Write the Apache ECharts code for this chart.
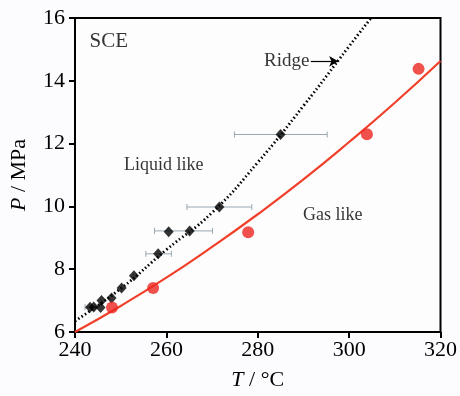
<!DOCTYPE html>
<html>
<head>
<meta charset="utf-8">
<script src="https://cdn.jsdelivr.net/npm/echarts@6/dist/echarts.min.js"></script>
<style>
  html, body { margin: 0; padding: 0; background: #fcfcfe; }
  #chart { width: 460px; height: 396px; }
</style>
</head>
<body>
<div id="chart"></div>
<script>
  // ridge points (black diamonds)
  var ridgePtT = [243.3, 244.1, 245.6, 245.8, 248.0, 250.2, 252.9, 258.2, 260.5, 265.1, 271.6, 285.0]
  var ridgePtP = [6.79, 6.80, 6.78, 7.00, 7.08, 7.40, 7.79, 8.49, 9.19, 9.22, 9.98, 12.29]
  // horizontal error bars on some ridge points
  var errT = [243.3, 258.2, 265.1, 271.6, 285.0]
  var errP = [6.79, 8.49, 9.22, 9.98, 12.29]
  var errLo = [242.2, 255.5, 257.4, 264.5, 274.9]
  var errHi = [244.4, 261.1, 270.1, 278.7, 295.2]
  // dotted ridge line
  var ridgeT = [240, 250, 260, 270, 280, 290, 300, 304.8]
  var ridgeP = [6.35, 7.38, 8.62, 9.80, 11.40, 13.20, 15.10, 16.00]
  // red points and fitted curve
  var gasT = [248.1, 257.1, 277.9, 303.9, 315.2]
  var gasP = [6.78, 7.40, 9.18, 12.30, 14.38]
  var fitT = [240, 250, 260, 270, 280, 290, 300, 310, 320]
  var fitP = [6.00, 6.83, 7.73, 8.71, 9.75, 10.86, 12.05, 13.30, 14.63]
  var xTicks = [240, 260, 280, 300, 320]
  var yTicks = [6, 8, 10, 12, 14, 16]

  var serif = '"Liberation Serif", "Times New Roman", serif'
  function zip (a, b) {
    return a.map(function (v, i) { return [v, b[i]] })
  }

  var option = {
    backgroundColor: '#fcfcfe',
    animation: false,
    textStyle: { fontFamily: serif },
    grid: {
      left: 74,
      right: 18,
      top: 18,
      bottom: 58,
      show: true,
      borderColor: '#000',
      borderWidth: 2,
      backgroundColor: '#fdfdfe'
    },
    xAxis: {
      type: 'value',
      min: xTicks[0],
      max: xTicks[xTicks.length - 1],
      interval: 20,
      name: '{i|T} / °C',
      nameLocation: 'middle',
      nameGap: 37,
      nameTextStyle: {
        fontSize: 22,
        color: '#000',
        fontFamily: serif,
        rich: { i: { fontStyle: 'italic', fontSize: 22, fontFamily: serif } }
      },
      axisLine: { lineStyle: { color: '#000', width: 2 } },
      axisTick: { length: 6, lineStyle: { color: '#000', width: 2 } },
      axisLabel: { fontSize: 22, color: '#000', margin: 7, fontFamily: serif },
      splitLine: { show: false }
    },
    yAxis: {
      type: 'value',
      min: yTicks[0],
      max: yTicks[yTicks.length - 1],
      interval: 2,
      name: '{i|P} / MPa',
      nameLocation: 'middle',
      nameGap: 45,
      nameTextStyle: {
        fontSize: 22,
        color: '#000',
        fontFamily: serif,
        rich: { i: { fontStyle: 'italic', fontSize: 22, fontFamily: serif } }
      },
      axisLine: { lineStyle: { color: '#000', width: 2 } },
      axisTick: { length: 6, lineStyle: { color: '#000', width: 2 } },
      axisLabel: { fontSize: 22, color: '#000', margin: 10, fontFamily: serif },
      splitLine: { show: false }
    },
    series: [
      {
        // 红色拟合曲线
        type: 'line',
        data: zip(fitT, fitP),
        smooth: true,
        showSymbol: false,
        lineStyle: { color: '#f0402a', width: 2.2 },
        z: 2
      },
      {
        // 黑色点线 Ridge
        type: 'line',
        data: zip(ridgeT, ridgeP),
        smooth: true,
        showSymbol: false,
        lineStyle: { color: '#000', width: 2.8, type: [1.5, 2.5] },
        z: 2
      },
      {
        type: 'custom',
        data: errT.map(function (t, i) { return [errLo[i], errHi[i], errP[i]] }),
        renderItem: function (params, api) {
          var a = api.coord([api.value(0), api.value(2)])
          var b = api.coord([api.value(1), api.value(2)])
          var s = { stroke: '#98a9b2', lineWidth: 1 }
          return {
            type: 'group',
            children: [
              { type: 'line', shape: { x1: a[0], y1: a[1], x2: b[0], y2: b[1] }, style: s },
              { type: 'line', shape: { x1: a[0], y1: a[1] - 3, x2: a[0], y2: a[1] + 3 }, style: s },
              { type: 'line', shape: { x1: b[0], y1: b[1] - 3, x2: b[0], y2: b[1] + 3 }, style: s }
            ]
          }
        },
        z: 3
      },
      {
        type: 'scatter',
        data: zip(ridgePtT, ridgePtP),
        symbol: 'diamond',
        symbolSize: [10, 11],
        itemStyle: { color: '#000' },
        z: 4
      },
      {
        type: 'scatter',
        data: zip(gasT, gasP),
        symbol: 'circle',
        symbolSize: 12,
        itemStyle: { color: '#ec2520' },
        z: 4
      },
      {
        // 文字标注
        type: 'scatter',
        symbolSize: 0,
        silent: true,
        data: [
          { value: [247.4, 15.26], label: { formatter: 'SCE', fontSize: 21 } },
          { value: [259.4, 11.31], label: { formatter: 'Liquid like' } },
          { value: [296.4, 9.71], label: { formatter: 'Gas like' } },
          { value: [291.3, 14.62], label: { formatter: 'Ridge', align: 'right', fontSize: 19 } }
        ],
        label: {
          show: true,
          position: 'inside',
          color: '#000',
          fontSize: 18,
          fontFamily: serif
        },
        markLine: {
          silent: true,
          symbol: ['none', 'arrow'],
          symbolSize: [8, 9],
          label: { show: false },
          lineStyle: { color: '#000', width: 1.2, type: 'solid' },
          data: [[{ coord: [291.6, 14.62] }, { coord: [297.6, 14.62] }]]
        },
        z: 5
      }
    ]
  }

  var chart = echarts.init(document.getElementById('chart'))
  chart.setOption(option)
</script>
</body>
</html>
